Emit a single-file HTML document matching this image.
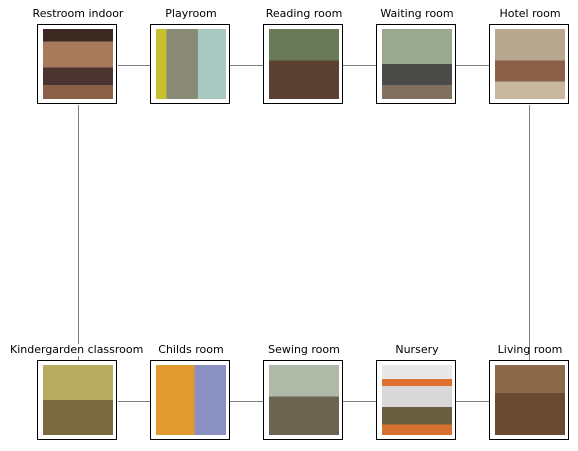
<!DOCTYPE html>
<html><head><style>
body{margin:0;width:578px;height:451px;background:#fff;position:relative;overflow:hidden;font-family:"DejaVu Sans","Liberation Sans",sans-serif}
.l{position:absolute;background:#808080}
.b{position:absolute;width:78px;height:78px;border:1.5px solid #000;background:#fff}
.b i{position:absolute;left:4.5px;top:3.5px;width:70px;height:70px;display:block}
.t{position:absolute;width:160px;text-align:center;font-size:11px;color:#000;line-height:12px}
</style></head><body>
<div class="l" style="left:118px;top:65px;width:371px;height:1px"></div>
<div class="l" style="left:118px;top:401px;width:371px;height:1px"></div>
<div class="l" style="left:78px;top:105px;width:1px;height:255px"></div>
<div class="l" style="left:529px;top:105px;width:1px;height:255px"></div>

<div class="t" style="left:-2px;top:8px">Restroom indoor</div>
<div class="t" style="left:111px;top:8px">Playroom</div>
<div class="t" style="left:224px;top:8px">Reading room</div>
<div class="t" style="left:337px;top:8px">Waiting room</div>
<div class="t" style="left:450px;top:8px">Hotel room</div>
<div class="t" style="top:344px;background:#fff;width:auto;left:9px;padding:0 1px">Kindergarden classroom</div>
<div class="t" style="left:111px;top:344px">Childs room</div>
<div class="t" style="left:224px;top:344px">Sewing room</div>
<div class="t" style="left:337px;top:344px">Nursery</div>
<div class="t" style="left:450px;top:344px">Living room</div>

<div class="b" style="left:37px;top:24px"><i style="background:linear-gradient(#3a2a22 0 18%,#a87a5c 18% 55%,#4a3430 55% 80%,#8a6048 80%)"></i></div>
<div class="b" style="left:150px;top:24px"><i style="background:linear-gradient(90deg,#c8c030 0 15%,#8a8a78 15% 60%,#a8c8c0 60%);"></i></div>
<div class="b" style="left:263px;top:24px"><i style="background:linear-gradient(#6a7a58 0 45%,#5a4030 45%)"></i></div>
<div class="b" style="left:376px;top:24px"><i style="background:linear-gradient(#9aa890 0 50%,#4a4a48 50% 80%,#807060 80%)"></i></div>
<div class="b" style="left:489px;top:24px"><i style="background:linear-gradient(#b8a890 0 45%,#8a6048 45% 75%,#c8b8a0 75%)"></i></div>

<div class="b" style="left:37px;top:360px"><i style="background:linear-gradient(#b8ac60 0 50%,#7a6a40 50%)"></i></div>
<div class="b" style="left:150px;top:360px"><i style="background:linear-gradient(90deg,#e09a30 0 55%,#8a90c0 55%)"></i></div>
<div class="b" style="left:263px;top:360px"><i style="background:linear-gradient(#b0b8a8 0 45%,#6a6450 45%)"></i></div>
<div class="b" style="left:376px;top:360px"><i style="background:linear-gradient(#e8e8e8 0 20%,#e07030 20% 30%,#d8d8d8 30% 60%,#6a6040 60% 85%,#d87030 85%)"></i></div>
<div class="b" style="left:489px;top:360px"><i style="background:linear-gradient(#8a6a48 0 40%,#6a4a30 40%)"></i></div>
</body></html>
